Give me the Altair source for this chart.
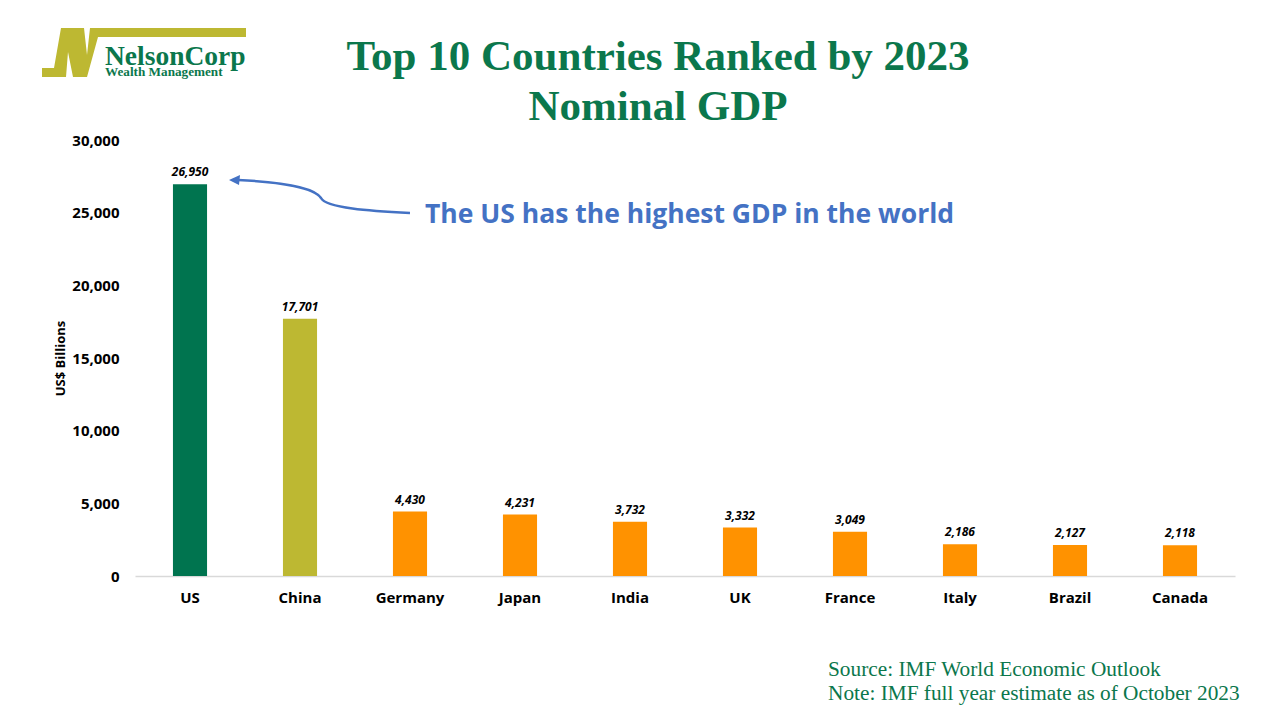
import altair as alt
import pandas as pd

countries = ["US", "China", "Germany", "Japan", "India", "UK", "France", "Italy", "Brazil", "Canada"]
gdp = [26950, 17701, 4430, 4231, 3732, 3332, 3049, 2186, 2127, 2118]
bar_colors = ["#00744F", "#BDB832", "#FF9200", "#FF9200", "#FF9200", "#FF9200",
              "#FF9200", "#FF9200", "#FF9200", "#FF9200"]
y_ticks = [0, 5000, 10000, 15000, 20000, 25000, 30000]

title_lines = ["Top 10 Countries Ranked by 2023", "Nominal GDP"]
annotation = "The US has the highest GDP in the world"
notes = ["Source: IMF World Economic Outlook", "Note: IMF full year estimate as of October 2023"]

df = pd.DataFrame({"country": countries, "gdp": gdp})

GREEN = "#0B774C"
BLUE = "#4472C4"
SANS = "Open Sans"
SERIF = "Liberation Serif"

x = alt.X("country:N", sort=countries, title=None,
          scale=alt.Scale(paddingInner=0.69, paddingOuter=0.345),
          axis=alt.Axis(labelAngle=0, labelFont=SANS, labelFontSize=15, labelFontWeight="bold",
                        labelColor="#000000", labelPadding=14, ticks=False,
                        domainColor="#D9D9D9", domainWidth=1.5))
y = alt.Y("gdp:Q", title="US$ Billions",
          scale=alt.Scale(domain=[0, 30000], nice=False),
          axis=alt.Axis(values=y_ticks, format=",.0f", grid=False, domain=False, ticks=False,
                        labelFont=SANS, labelFontSize=15, labelFontWeight="bold",
                        labelColor="#000000", labelPadding=16,
                        titleFont=SANS, titleFontSize=13, titleFontWeight="bold",
                        titleColor="#000000", titlePadding=4))

bars = alt.Chart(df).mark_bar().encode(
    x=x, y=y,
    color=alt.Color("country:N", scale=alt.Scale(domain=countries, range=bar_colors), legend=None),
)

labels = alt.Chart(df).mark_text(dy=-5, baseline="bottom", font=SANS, fontSize=12,
                                 fontStyle="italic", fontWeight="bold", color="#000000").encode(
    x=alt.X("country:N", sort=countries), y="gdp:Q", text=alt.Text("gdp:Q", format=",.0f")
)

one = alt.Data(values=[{}])


def text_at(txt, xpx, ypx, **kw):
    return alt.Chart(one).mark_text(text=txt, **kw).encode(x=alt.value(xpx), y=alt.value(ypx))


# title (centred over the chart, as in the reference)
title1 = text_at(title_lines[0], 523, -70, align="center", baseline="alphabetic", font=SERIF,
                 fontSize=43, fontWeight="bold", color=GREEN)
title2 = text_at(title_lines[1], 523, -20, align="center", baseline="alphabetic", font=SERIF,
                 fontSize=43, fontWeight="bold", color=GREEN)

# annotation text + curved arrow (custom symbol paths, size=4 -> 1 unit = 1 px, origin at page 0,0)
ann_text = text_at(annotation, 290, 75, align="left", baseline="middle", font=SANS,
                   fontSize=26.5, fontWeight="bold", color=BLUE)

arrow_path = "M 410 213 C 370 211 326 208 321 198 C 315 188 282 182 238 180"
arrow_curve = alt.Chart(one).mark_point(shape=arrow_path, size=4, filled=False, stroke=BLUE,
                                        strokeWidth=2.5, opacity=1).encode(
    x=alt.value(-135), y=alt.value(-140))
head_path = "M 229 180 L 240 175 L 239 185 Z"
arrow_head = alt.Chart(one).mark_point(shape=head_path, size=4, filled=True, fill=BLUE,
                                       strokeWidth=0, opacity=1).encode(
    x=alt.value(-135), y=alt.value(-140))

# logo
logo_path = ("M 42 68 L 54 68 L 61 28 L 84 28 L 87 55 L 90 28 L 246 28 L 246 37 L 98 37 "
             "L 87 77 L 73 77 L 68 52 L 66 77 L 42 77 Z")
logo_shape = alt.Chart(one).mark_point(shape=logo_path, size=4, filled=True, fill="#BDB832",
                                       strokeWidth=0, opacity=1).encode(
    x=alt.value(-135), y=alt.value(-140))
logo_name = text_at("NelsonCorp", -30, -75, align="left", baseline="alphabetic", font=SERIF,
                    fontSize=27.5, fontWeight="bold", color=GREEN)
logo_sub = text_at("Wealth Management", -30, -64, align="left", baseline="alphabetic", font=SERIF,
                   fontSize=13.2, fontWeight="bold", color=GREEN)

# footnotes
foot1 = text_at(notes[0], 693, 530, align="left", baseline="middle", font=SERIF, fontSize=21.3,
                color=GREEN)
foot2 = text_at(notes[1], 693, 554, align="left", baseline="middle", font=SERIF, fontSize=21.3,
                color=GREEN)

chart = alt.layer(
    bars, labels, title1, title2, ann_text, arrow_curve, arrow_head,
    logo_shape, logo_name, logo_sub, foot1, foot2
).properties(
    width=1100, height=436,
    background="#FFFFFF",
    autosize=alt.AutoSizeParams(type="none"),
    padding={"left": 127, "top": 132, "right": 30, "bottom": 130},
).configure_view(stroke=None, strokeWidth=0)

chart.save("out.html", embed_options={"renderer": "svg", "actions": False})
